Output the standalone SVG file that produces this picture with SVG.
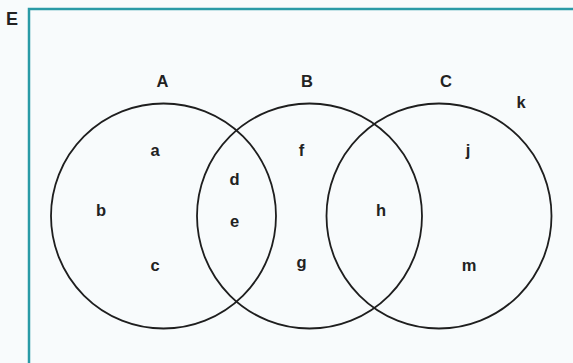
<svg xmlns="http://www.w3.org/2000/svg" width="573" height="363" viewBox="0 0 573 363">
<style>
.bg{fill:#f8fbfc}
.frame{fill:none;stroke:#2a9aa6;stroke-width:2.5}
.set{fill:none;stroke:#1e1e1e;stroke-width:1.8}
text{font-family:"Liberation Sans",Arial,sans-serif;font-weight:bold;font-size:16.5px;fill:#222;text-anchor:middle}
</style>
<rect class="bg" x="0" y="0" width="573" height="363"/>
<g id="universe">
<rect class="frame" x="29" y="9" width="560" height="370"/>
<text x="12" y="25" style="font-size:18px">E</text>
<text x="521" y="108">k</text>
</g>
<g id="setA">
<circle class="set" cx="163.5" cy="216" r="112.5"/>
<text x="162.5" y="87">A</text>
<text x="155" y="156">a</text>
<text x="101" y="216">b</text>
<text x="155" y="271">c</text>
</g>
<g id="setB">
<circle class="set" cx="309.5" cy="216" r="112.5"/>
<text x="307" y="87">B</text>
<text x="301.5" y="156">f</text>
<text x="234.5" y="185">d</text>
<text x="234.5" y="227">e</text>
<text x="301.5" y="268">g</text>
</g>
<g id="setC">
<circle class="set" cx="439" cy="216" r="112.5"/>
<text x="446" y="87">C</text>
<text x="468" y="156">j</text>
<text x="381" y="216">h</text>
<text x="469" y="271">m</text>
</g>
<g id="connectors"></g>
</svg>
